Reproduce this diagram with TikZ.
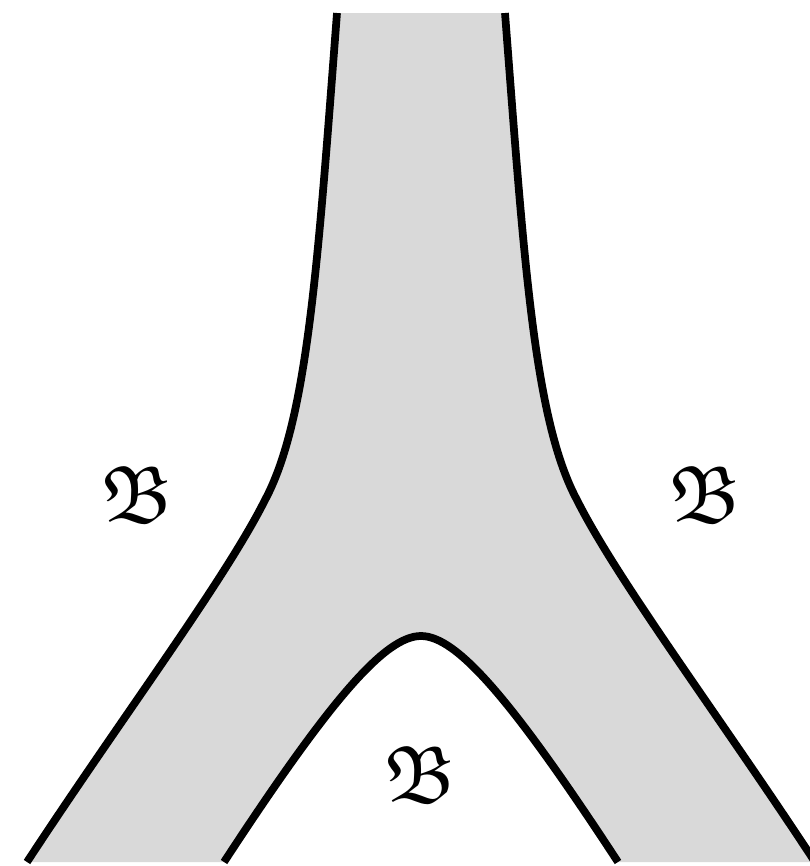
\documentclass[tikz,border=0pt]{standalone}
\usepackage{amsmath, amssymb}
\usepackage{xcolor}
\usepackage{tikz}

\begin{document}
\begin{tikzpicture}[x=0.01cm,y=-0.01cm]
\useasboundingbox (0,0) rectangle (810,866);
\fill[gray!30] (337,13) .. controls (318,260) and (308,420) .. (265,500)
  .. controls (225,580) and (120,720) .. (27,862) -- (224,862)
  .. controls (330,700) and (385,636) .. (421,636)
  .. controls (457,636) and (512,700) .. (618,862) -- (815,862)
  .. controls (722,720) and (617,580) .. (577,500)
  .. controls (534,420) and (524,260) .. (505,13) -- cycle;
\draw[line width=2.2pt] (337,13) .. controls (318,260) and (308,420) .. (265,500)
  .. controls (225,580) and (120,720) .. (27,862);
\draw[line width=2.2pt] (505,13) .. controls (524,260) and (534,420) .. (577,500)
  .. controls (617,580) and (722,720) .. (815,862);
\draw[line width=2.2pt] (224,862) .. controls (330,700) and (385,636) .. (421,636)
  .. controls (457,636) and (512,700) .. (618,862);
\node (left) at (137,495) {\fontsize{23}{28}\selectfont $\mathfrak{B}$};
\node (right) at (705,495) {\fontsize{23}{28}\selectfont $\mathfrak{B}$};
\node (bot) at (420,775) {\fontsize{23}{28}\selectfont $\mathfrak{B}$};
\end{tikzpicture}
\end{document}
